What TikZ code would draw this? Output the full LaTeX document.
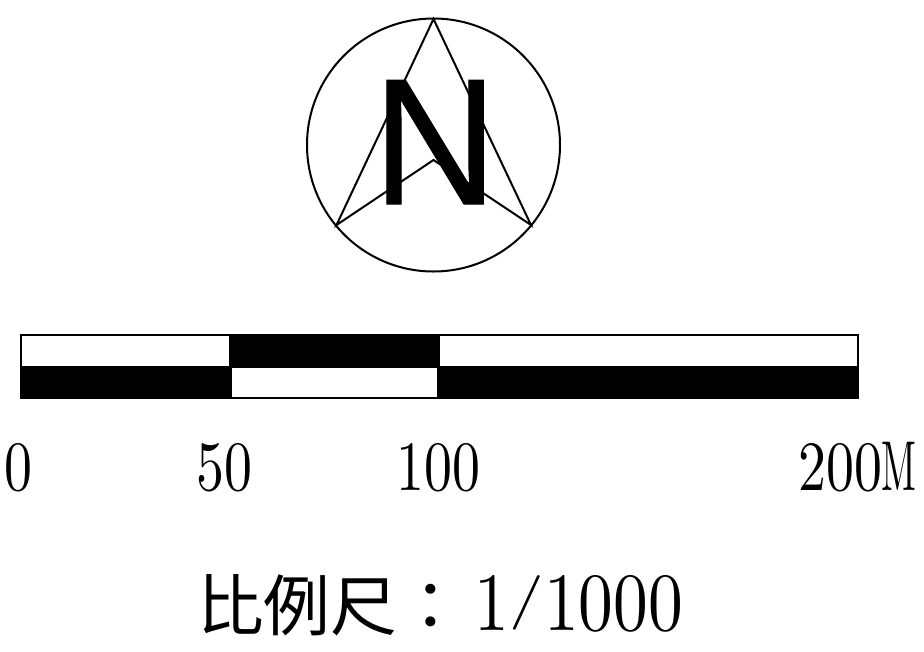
\documentclass[tikz,border=0pt]{standalone}
\usepackage{fontspec}
\setmainfont{lmroman10-regular.otf}
\newfontfamily\cjkfont{Noto Sans CJK TC}
\newfontfamily\nfont{Liberation Sans}[FakeBold=0.6]
\newcommand{\numfont}{\fontsize{53}{55}\selectfont}
\tikzset{
  line/.style={draw=black,line width=1.5pt,line join=miter},
  lab/.style={inner sep=0pt,outer sep=0pt,anchor=base,xscale=0.79},
}
\begin{document}
\begin{tikzpicture}[x=0.75pt,y=-0.75pt]
\useasboundingbox (0,0) rectangle (924,651);
\fill[white] (0,0) rectangle (924,651);
% compass
\draw[line] (433.5,145) circle[radius=126.5];
\coordinate (apex) at (433.5,19);
\coordinate (left) at (336.5,225);
\coordinate (right) at (531,225);
\coordinate (notch) at (433.5,160);
\draw[line] (apex) -- (right) -- (notch) -- (left) -- cycle;
\node[inner sep=0pt,anchor=base,xscale=0.96] (north) at (435,204) {\nfont\fontsize{135}{140}\selectfont N};
% bar
\draw[line,fill=white] (21,335) rectangle (857.5,398);
\fill (229,335) rectangle (440,366);
\fill (20.5,366) rectangle (231,398.5);
\fill (438,366) rectangle (858,398.5);
\draw[line] (231,366.5) rectangle (438,398);
% labels
\node[lab] (l0) at (18,490) {\numfont 0};
\node[lab] (l50) at (224.5,490) {\numfont 50};
\node[lab] (l100) at (438.5,490) {\numfont 100};
\node[lab] (l200) at (857.5,490) {\numfont 200\scalebox{0.68}[1]{M}};
\node[inner sep=0pt,anchor=base west] (title) at (197,630) {{\cjkfont\fontsize{50}{55}\selectfont 比例尺：}\hspace{8pt}\scalebox{0.84}[1]{\fontsize{62}{64}\selectfont 1\raisebox{10pt}{\scalebox{1}[0.66]{/}}1000}};
\end{tikzpicture}
\end{document}
